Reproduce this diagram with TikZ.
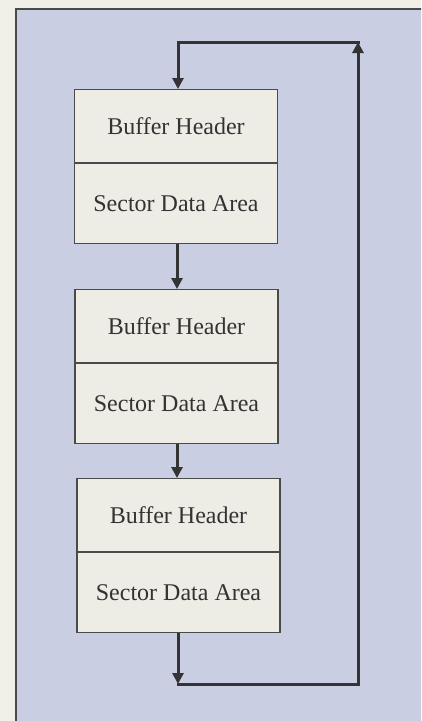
\documentclass[tikz,border=0pt]{standalone}
\usepackage{fontspec}
\setmainfont{Liberation Serif}
\usetikzlibrary{arrows.meta,positioning}
\definecolor{paper}{HTML}{F0EFE8}
\definecolor{panel}{HTML}{C9CEE2}
\definecolor{boxfill}{HTML}{EDECE5}
\definecolor{ink}{HTML}{333333}
\definecolor{frame}{HTML}{4A4A4A}
\tikzset{
  part/.style={draw=frame, line width=1.1pt, fill=boxfill, minimum width=203pt,
    inner sep=0pt, font=\fontsize{24}{28}\selectfont, text=ink, anchor=north},
  head/.style={part, minimum height=73pt},
  data/.style={part, minimum height=80pt},
  link/.style={draw=ink, line width=3pt,
    -{Triangle[length=11pt,width=11pt]}},
  plain/.style={draw=ink, line width=3pt, line cap=rect}
}
\begin{document}
\begin{tikzpicture}[x=1pt,y=-1pt]
  \useasboundingbox (0,0) rectangle (421,721);
  \fill[paper] (0,0) rectangle (421,721);
  \begin{scope}
    \clip (0,0) rectangle (421,721);
    \filldraw[fill=panel, draw=frame, line width=1.6pt] (16,9) rectangle (440,740);
  \end{scope}

  % three buffers, each a header on top of a data area
  \node[head] (h1) at (176,89) {Buffer Header};
  \node[data] (d1) at (h1.south) {Sector Data Area};
  \node[head] (h2) at (176.5,289) {Buffer Header};
  \node[data] (d2) at (h2.south) {Sector Data Area};
  \node[head] (h3) at (178.5,478) {Buffer Header};
  \node[data] (d3) at (h3.south) {Sector Data Area};

  % corners of the return loop
  \coordinate (bl) at (178,684);
  \coordinate (br) at (358,684);
  \coordinate (tr) at (358,42);
  \coordinate (tl) at (178,42);

  \draw[link] (d1.south -| 177,0) -- (h2.north -| 177,0);
  \draw[link] (d2.south -| 177,0) -- (h3.north -| 177,0);
  \draw[link] (d3.south -| bl) -- (bl);
  \draw[plain] (bl) -- (br);
  \draw[link] (br) -- (tr);
  \draw[plain] (tr) -- (tl);
  \draw[link] (tl) -- (h1.north -| tl);
\end{tikzpicture}
\end{document}
